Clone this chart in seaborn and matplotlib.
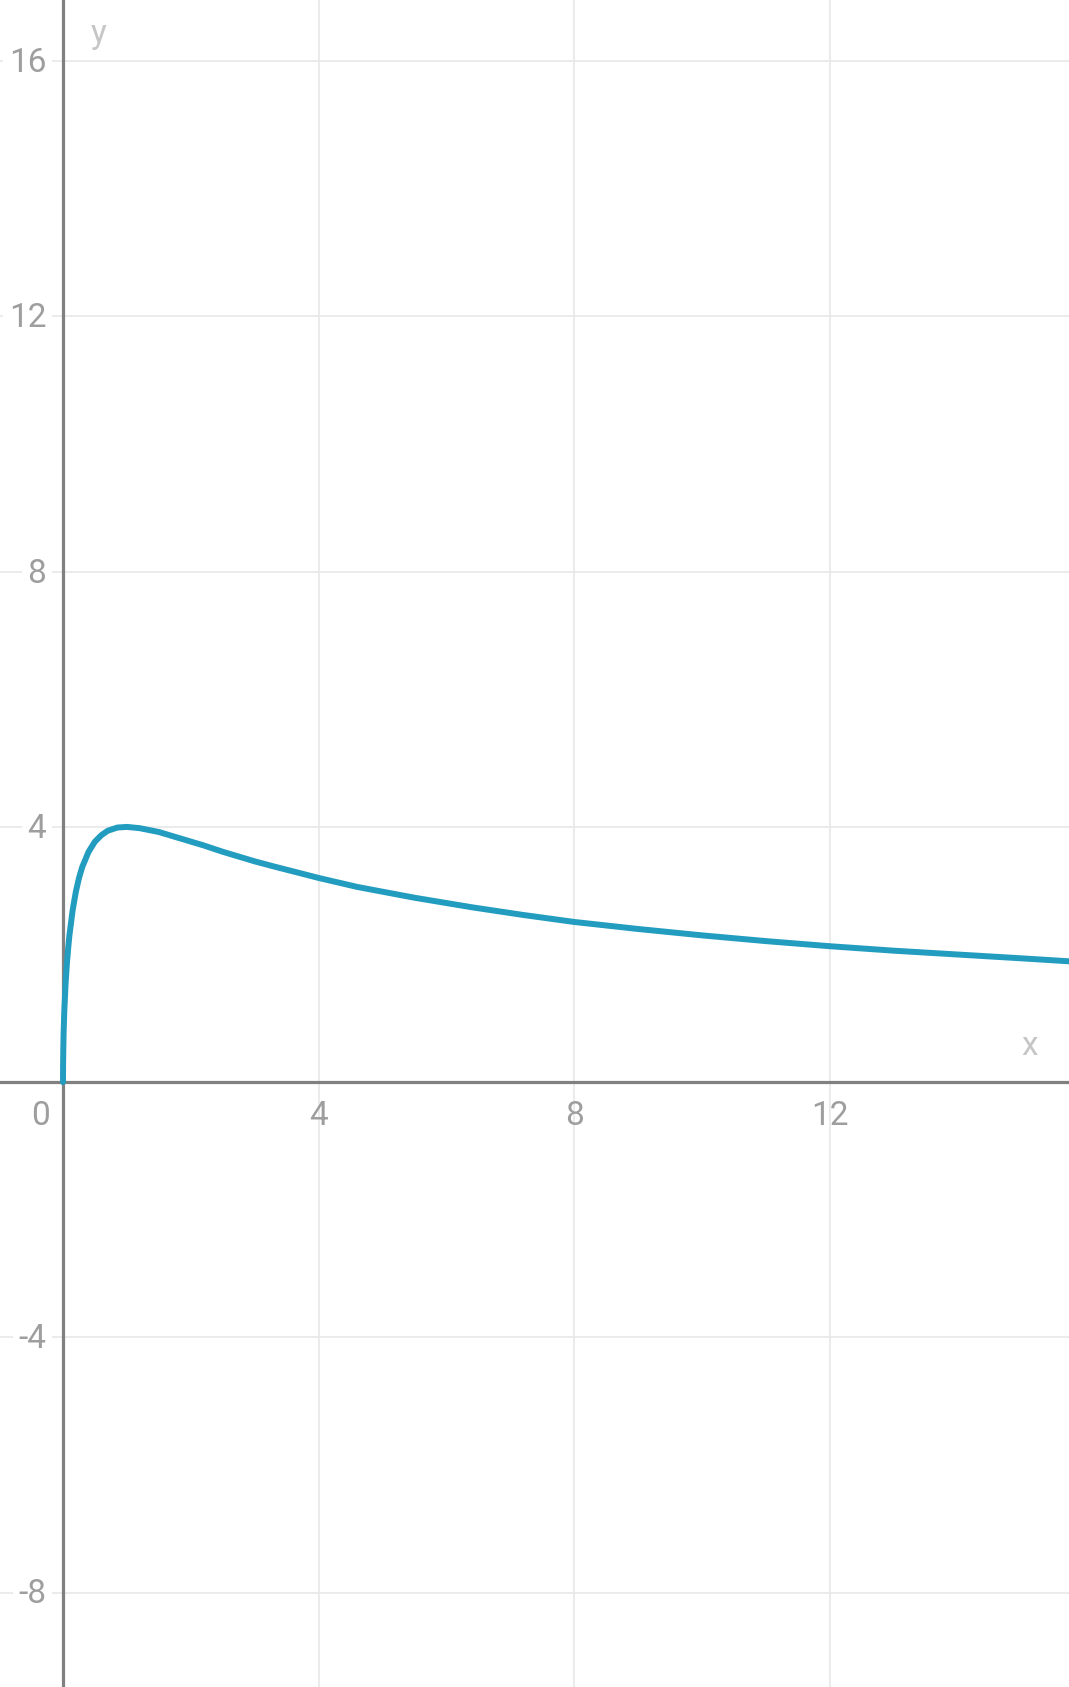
import matplotlib
matplotlib.use("Agg")
import matplotlib.pyplot as plt
import seaborn as sns
import pandas as pd

# points
xs = [0.0, 0.001, 0.005, 0.01, 0.02, 0.04, 0.06, 0.08, 0.1, 0.15, 0.2, 0.25, 0.3, 0.4,
      0.5, 0.6, 0.7, 0.85, 1.0, 1.2, 1.5, 1.8, 2.2, 2.5, 2.7, 3.0, 3.3, 4.0, 4.6, 5.5,
      6.4, 7.2, 8.0, 9.0, 10.0, 11.0, 12.0, 13.0, 14.0, 15.0, 15.8]
ys = [0.0, 0.25, 0.56, 0.79, 1.11, 1.54, 1.85, 2.09, 2.3, 2.69, 2.98, 3.2, 3.37, 3.61,
      3.77, 3.87, 3.94, 3.99, 4.0, 3.98, 3.92, 3.83, 3.71, 3.61, 3.55, 3.46, 3.38, 3.2,
      3.06, 2.89, 2.74, 2.62, 2.51, 2.40, 2.30, 2.21, 2.13, 2.06, 2.0, 1.94, 1.89]
x_ticks = [4, 8, 12]
y_ticks = [-8, -4, 4, 8, 12, 16]

df = pd.DataFrame({"x": xs, "y": ys})

sns.set_style("white")
plt.rcParams['font.family'] = ['Roboto', 'DejaVu Sans']

fig = plt.figure(figsize=(10.69, 16.87), dpi=100)
ax = fig.add_axes([0, 0, 1, 1])
ax.set_xlim(-0.986, 15.74)
ax.set_ylim(-9.48, 16.96)

for s in ax.spines.values():
    s.set_visible(False)
ax.set_xticks(x_ticks)
ax.set_yticks(y_ticks)
ax.set_xticklabels([])
ax.set_yticklabels([])
ax.tick_params(length=0)
ax.grid(True, color="#e8e8e8", linewidth=1.2)
ax.set_axisbelow(True)

ax.axhline(0, color="#808080", linewidth=2.3, zorder=2)
ax.axvline(0, color="#808080", linewidth=2.3, zorder=2)

sns.lineplot(data=df, x="x", y="y", sort=False, estimator=None, ax=ax,
             color="#229cbf", linewidth=4.3, zorder=3)
ax.set_xlabel("")
ax.set_ylabel("")

lab = dict(color="#9e9e9e", fontsize=24)
box = dict(facecolor="white", edgecolor="none", pad=4)
for t in y_ticks:
    ax.text(-0.26, t - 0.03, f"{t}", ha="right", va="center", bbox=box, zorder=4, **lab)
for t in x_ticks:
    ax.text(t, -0.53, f"{t}", ha="center", va="center", zorder=4, **lab)
ax.text(-0.36, -0.53, "0", ha="center", va="center", zorder=4, **lab)

ax.text(0.56, 16.42, "y", ha="center", va="center", color="#c6c6c6", fontsize=24)
ax.text(15.13, 0.57, "x", ha="center", va="center", color="#c6c6c6", fontsize=24)

fig.savefig("out.png", dpi=100)
